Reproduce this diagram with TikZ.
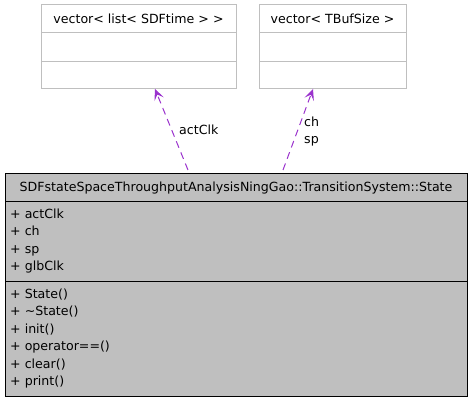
\documentclass[tikz,border=0pt]{standalone}
\usepackage{fontspec}
\setmainfont{DejaVu Sans}
\usetikzlibrary{arrows.meta}
\definecolor{usecol}{HTML}{9A32CD}
\definecolor{boxgrey}{HTML}{BFBFBF}
\begin{document}
\begin{tikzpicture}[x=1pt,y=-1pt,
  lbl/.style={font=\fontsize{12.6}{17.5}\selectfont, inner sep=0pt, text=black, anchor=base},
  memb/.style={lbl, anchor=base west},
  extbox/.style={draw=boxgrey, line width=1pt, fill=white},
  use/.style={draw=usecol, dashed, dash pattern=on 7pt off 5pt, line width=1pt, -{Stealth[length=11pt,width=10pt,inset=5pt]}}]
\useasboundingbox (0,0) rectangle (472,403);
% external box 1
\draw[extbox] (41,5) rectangle (236,89);
\draw[boxgrey, line width=1pt] (41,33) -- (236,33) (41,62) -- (236,62);
\node[lbl] (t1) at (138.5,23.5) {vector< list< SDFtime > >};
\coordinate (b1) at (155,89);
% external box 2
\draw[extbox] (259,5) rectangle (406,89);
\draw[boxgrey, line width=1pt] (259,33) -- (406,33) (259,62) -- (406,62);
\node[lbl] (t2) at (332.5,23.5) {vector< TBufSize >};
\coordinate (b2) at (313,89);
% main box
\draw[fill=boxgrey, draw=black, line width=1pt] (5,174) rectangle (467,397);
\draw[black, line width=1pt] (5,202) -- (467,202) (5,282) -- (467,282);
\node[lbl] (title) at (236,192) {SDFstateSpaceThroughputAnalysisNingGao::TransitionSystem::State};
\node[memb] (a1) at (10,218.5) {+ actClk};
\node[memb] (a2) at (10,236) {+ ch};
\node[memb] (a3) at (10,253.5) {+ sp};
\node[memb] (a4) at (10,271) {+ glbClk};
\node[memb] (m1) at (10,298.5) {+ State()};
\node[memb] (m2) at (10,316) {+ \textasciitilde State()};
\node[memb] (m3) at (10,333.5) {+ init()};
\node[memb] (m4) at (10,351) {+ operator==()};
\node[memb] (m5) at (10,368.5) {+ clear()};
\node[memb] (m6) at (10,386) {+ print()};
\coordinate (s1) at (188,170);
\coordinate (s2) at (283,170);
\draw[use] (s1) -- (b1);
\draw[use] (s2) -- (b2);
\node[memb] (l1) at (179,135) {actClk};
\node[memb] (l2a) at (304,126.5) {ch};
\node[memb] (l2b) at (304,144) {sp};
\end{tikzpicture}
\end{document}
